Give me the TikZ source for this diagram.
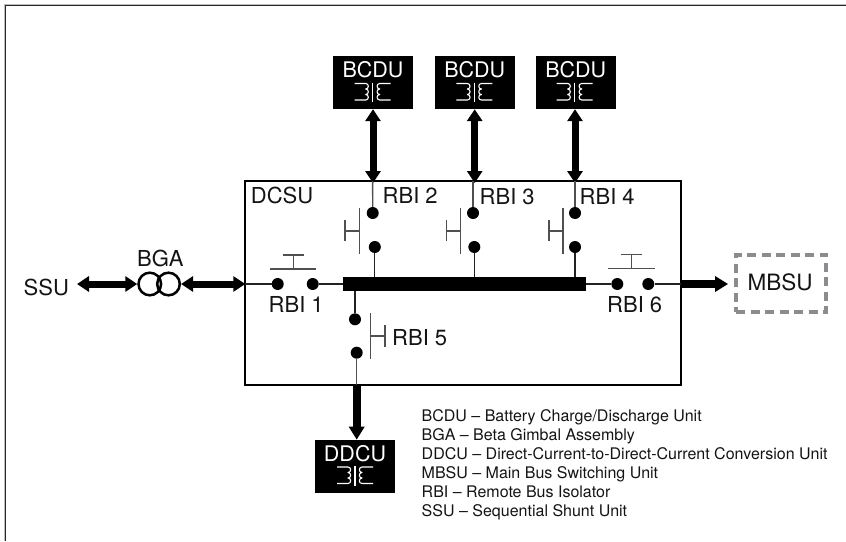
\documentclass[tikz,border=0pt]{standalone}
\usepackage{fontspec}
\setmainfont{TeX Gyre Heros}
\usetikzlibrary{arrows.meta}
\definecolor{wire}{HTML}{222222}
\definecolor{sw}{HTML}{505050}
\definecolor{dash}{HTML}{8C8C8E}
\tikzset{
  txt/.style={font=\fontsize{22}{24}\selectfont,inner sep=0pt,text=black!92},
  wtxt/.style={font=\fontsize{21.5}{24}\selectfont,inner sep=0pt,text=white,anchor=base},
  blk/.style={fill=black,draw=none,minimum width=80pt,minimum height=53pt,inner sep=0pt},
  dot/.style={circle,fill=black,draw=none,minimum size=12pt,inner sep=0pt},
  wireline/.style={line width=1.2pt,draw=wire},
  swline/.style={line width=1.3pt,draw=sw},
  dbl/.style={line width=7pt,{Triangle[length=12pt,width=15pt]}-{Triangle[length=12pt,width=15pt]}},
  sgl/.style={line width=8pt,-{Triangle[length=13pt,width=15pt]}},
  xfside/.pic={\draw[white,line width=1.1pt,line join=round] (-18,0) -- (-7,0)
     .. controls (-3.5,0) and (-3.5,5.5) .. (-7,5.5)
     .. controls (-3.5,5.5) and (-3.5,11) .. (-7,11)
     .. controls (-3.5,11) and (-3.5,16.5) .. (-7,16.5) -- (-18,16.5);},
  xfmr/.pic={\draw[white,line width=1.1pt] (0,-1) -- (0,18.5);
     \pic {xfside}; \pic[xscale=-1] {xfside};}
}
\begin{document}
\begin{tikzpicture}[x=1pt,y=-1pt]
\useasboundingbox (0,0) rectangle (846,541);
% page frame (left and top only)
\draw[line width=.8pt,draw=black!25] (4.3,541) -- (4.3,4.3) -- (846,4.3);
\draw[line width=1.1pt,draw=black!85] (5.4,541) -- (5.4,5.4) -- (846,5.4);

% main box
\node[draw=black,line width=1.8pt,minimum width=435.7pt,minimum height=204.3pt,inner sep=0pt] (dcsu) at (463.2,283.2) {};
\node[txt,anchor=base west] (dcsulab) at (250.7,203) {DCSU};

% named connection points on the box edges
\coordinate (t2) at (372.6,181);
\coordinate (t3) at (473,181);
\coordinate (t4) at (575,181);
\coordinate (lw) at (245.3,284);
\coordinate (rw) at (681,284);
\coordinate (bw) at (356.7,385.3);

% bus
\node[fill=black,minimum width=243.3pt,minimum height=13.4pt,inner sep=0pt] (bus) at (464.35,284) {};

% BCDU / DDCU boxes
\node[blk] (b1) at (373,82.5) {};
\node[blk] (b2) at (475,82.5) {};
\node[blk] (b3) at (576,82.5) {};
\node[blk] (dd) at (355,466.4) {};
\node[wtxt] (b1l) at (373,77.3) {BCDU};
\node[wtxt] (b2l) at (474.7,77.3) {BCDU};
\node[wtxt] (b3l) at (575.7,77.3) {BCDU};
\node[wtxt] (ddl) at (355,461) {DDCU};
\pic at (372.7,83.5) {xfmr};
\pic at (474.4,83.5) {xfmr};
\pic at (574.7,83.5) {xfmr};
\pic at (355,467) {xfmr};

% BCDU arrows
\draw[dbl] (b1.south) -- ([yshift=-2pt]b1.south |- t2);
\draw[dbl] (b2.south -| t3) ++(1.7,0) -- ([xshift=1.7pt,yshift=-2pt]t3);
\draw[dbl] (b3.south -| t4) -- ([yshift=-2pt]t4);

% switch dots
\node[dot] (s2a) at (372.7,213) {};
\node[dot] (s2b) at (374.8,247) {};
\node[dot] (s3a) at (473,213) {};
\node[dot] (s3b) at (474.3,247) {};
\node[dot] (s4a) at (575,213) {};
\node[dot] (s4b) at (575,247) {};
\node[dot] (s1a) at (277.7,284) {};
\node[dot] (s1b) at (312.7,284) {};
\node[dot] (s6a) at (617.3,284) {};
\node[dot] (s6b) at (648.3,284) {};
\node[dot] (s5a) at (355,319.3) {};
\node[dot] (s5b) at (356.7,352.7) {};

% wires
\draw[swline] (t2) -- (s2a);
\draw[swline] (t3) -- (s3a);
\draw[swline] (t4) -- (s4a);
\draw[wireline] (s2b) -- (s2b |- bus.north);
\draw[wireline] (s3b) -- (s3b |- bus.north);
\draw[wireline] (s4b) -- (s4b |- bus.north);
\draw[wireline] (lw) -- (s1a);
\draw[wireline] (s1b) -- (bus.west |- s1b);
\draw[wireline] (bus.east |- s6a) -- (s6a);
\draw[wireline] (s6b) -- (rw);
\draw[wireline] (s5a |- bus.south) -- (s5a);
\draw[swline] (s5b) -- (bw);

% actuators
\draw[swline] (359.3,208) -- (359.3,254) (359.3,231) -- (345,231) (345,220) -- (345,241);
\draw[swline] (460.7,208) -- (460.7,254) (460.7,231) -- (446.7,231) (446.7,220) -- (446.7,241);
\draw[swline] (563,208) -- (563,254) (563,231) -- (549,231) (549,220) -- (549,241);
\draw[swline] (270,269) -- (316,269) (293.3,269) -- (293.3,255) (282.7,255) -- (304,255);
\draw[swline] (608.3,268.7) -- (654.7,268.7) (631.3,268.7) -- (631.3,254.7) (620.7,254.7) -- (642.3,254.7);
\draw[swline] (370.7,313) -- (370.7,359) (370.7,336) -- (385,336) (385,325) -- (385,347);

% RBI labels
\node[txt,anchor=base west] (r1) at (268.5,312.7) {RBI 1};
\node[txt,anchor=base west] (r2) at (382.5,203) {RBI 2};
\node[txt,anchor=base west] (r3) at (479.5,204.7) {RBI 3};
\node[txt,anchor=base west] (r4) at (579.5,204.7) {RBI 4};
\node[txt,anchor=base west] (r5) at (392,345) {RBI 5};
\node[txt,anchor=base west] (r6) at (607,312.3) {RBI 6};

% left side
\node[txt,anchor=base west] (ssu) at (23.5,295) {SSU};
\node[txt,anchor=base west] (bgal) at (137,266.7) {BGA};
\node[circle,draw=black,line width=2.5pt,minimum size=22.6pt,inner sep=0pt] (g1) at (149.8,284) {};
\node[circle,draw=black,line width=2.5pt,minimum size=22.6pt,inner sep=0pt] (g2) at (168.5,284) {};
\coordinate (ssuend) at (77,284);
\draw[dbl] (ssuend) -- (g1.west);
\draw[dbl] (g2.east) -- (lw);

% MBSU
\node[draw=dash,line width=3.8pt,dash pattern=on 9pt off 5.5pt,minimum width=90pt,minimum height=57.5pt,inner sep=0pt] (mbsu) at (781,283.5) {};
\node[txt,anchor=base west,font=\fontsize{22.5}{24}\selectfont] (mbsul) at (747.5,290.7) {MBSU};
\draw[sgl] (rw) -- ([xshift=-6pt]mbsu.west |- rw);

% DDCU arrow
\draw[sgl] (bw) -- (bw |- dd.north);

% legend
\node[anchor=north west,align=left,inner sep=0pt,font=\fontsize{16}{19}\selectfont,text=black!92] (legend) at (421.5,409.5) {BCDU – Battery Charge/Discharge Unit\\
BGA – Beta Gimbal Assembly\\
DDCU – Direct-Current-to-Direct-Current Conversion Unit\\
MBSU – Main Bus Switching Unit\\
RBI – Remote Bus Isolator\\
SSU – Sequential Shunt Unit};
\end{tikzpicture}
\end{document}
